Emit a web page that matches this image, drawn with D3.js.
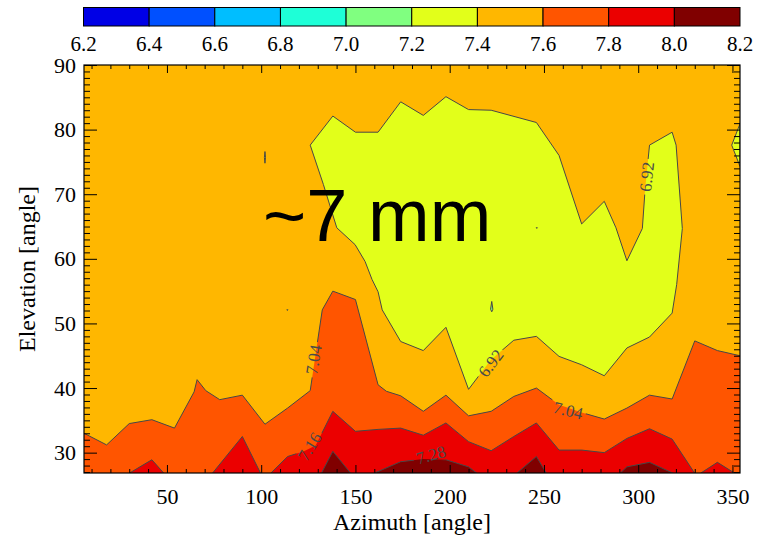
<!DOCTYPE html>
<html>
<head>
<meta charset="utf-8">
<script src="https://cdn.jsdelivr.net/npm/d3@7"></script>
<style>
  body { margin: 0; background: #fff; }
</style>
</head>
<body>
<script>
// colour table shown in the bar on top
const barLevels = [6.2, 6.4, 6.6, 6.8, 7.0, 7.2, 7.4, 7.6, 7.8, 8.0, 8.2];
const barColors = ["#0000e6", "#0050ff", "#00beff", "#1effd7", "#80ff80",
                   "#e2ff1a", "#ffb700", "#ff5500", "#eb0000", "#800000"];

// axis ticks
const azTicks = [50, 100, 150, 200, 250, 300, 350];
const azMinor = d3.range(10, 360, 10).filter(d => d % 50 !== 0);
const elTicks = [30, 40, 50, 60, 70, 80, 90];
const elMinor = d3.range(27, 90, 1).filter(d => d % 10 !== 0);

// contour levels and the colour-table index used for each band (below first level, then above each)
const contourLevels = [6.92, 7.04, 7.16, 7.28];
const bandColorIndex = [5, 6, 7, 8, 9];

// closed regions below 6.92 (azimuth, elevation)
const below692 = [
  [[126,77.6],[138,82.1],[150,79.6],[162,79.6],[174,84.3],[186,82.2],[198,85.1],[210,83.1],[222,83.0],
   [246,81.1],[258,76.0],[270,65.4],[282,68.9],[288.2,64.8],[294,59.7],[302.2,64.7],[303.6,70.5],[306,77.6],
   [318,79.6],[320.1,77.6],[323.4,64.7],[320.4,56.0],[318,51.6],[306,47.9],[294,46.2],[282,41.9],[270,43.6],
   [258,44.9],[246,48.0],[234,47.4],[222,44.4],[210,39.8],[198,49.4],[186,45.8],[174,47.2],[164.2,52.1],
   [162,54.9],[158.8,56.8],[155.1,59.6],[149.8,62.2],[140.1,64.8],[133,71.5]],
  [[354,80.9],[349.6,77.6],[354,74.3]],
  [[102,76.6],[102.3,75.7],[102,74.8],[101.7,75.7]],
  [[113.9,52.2],[114.2,52.1],[113.9,52.0],[113.6,52.1]],
  [[246.2,64.9],[246.5,64.8],[246.2,64.7],[245.9,64.8]]
];
// small pocket one level lower
const below680 = [
  [[222.3,53.4],[222.9,52.2],[222.3,51.8],[221.7,52.2]]
];

// upper edges of the bands rising from the bottom of the plot
const above704 = [
  [[6,33.0],[18,31.2],[30,34.5],[42,35.1],[54,33.8],[64.4,39.4],[66,41.3],[70.6,39.6],[78,38.2],[90,38.9],
   [102,34.4],[114,36.9],[126,39.6],[132.4,52.1],[138,55.0],[150,53.7],[162,40.5],[166.4,39.5],[174,38.8],
   [186,36.4],[198,38.9],[210,35.7],[222,36.4],[234,38.7],[246,40.0],[258,37.4],[270,36.2],[282,35.2],
   [294,36.9],[306,38.9],[318,38.3],[330,47.3],[342,45.8],[354,45.0]]
];
const above716 = [
  [[29.9,26.8],[42,28.9],[48.4,26.8]],
  [[74.1,26.8],[90,32.5],[99.7,26.8]],
  [[105,26.8],[114,29.4],[122.7,30.2],[128.9,31.1],[138,36.4],[150,33.3],[162,33.6],[174,33.8],[186,32.7],
   [198,34.6],[210,31.7],[222,30.3],[234,32.5],[246,34.6],[258,30.4],[270,30.4],[282,30.0],[294,32.2],
   [306,33.7],[318,32.1],[330,26.8]],
  [[333,26.8],[342,28.5],[351.3,26.8]]
];
const above728 = [
  [[131.9,26.8],[138,30.2],[147.5,26.8]],
  [[159.8,26.8],[174,28.6],[186,29.0],[198,28.9],[210,27.8],[214.5,26.8]],
  [[235.5,26.8],[246,29.4],[251.3,26.8]],
  [[290.3,26.8],[294,27.8],[306,28.5],[318.6,26.8]]
];

// level labels written on the lines
const lineLabels = [
  { level: 6.92, az: 304.7, el: 72.7, angle: -84 },
  { level: 6.92, az: 221.9, el: 43.8, angle: -52 },
  { level: 7.04, az: 128.0, el: 44.4, angle: -81 },
  { level: 7.04, az: 262.8, el: 36.5, angle: 14 },
  { level: 7.16, az: 125.9, el: 30.9, angle: -58 },
  { level: 7.28, az: 190.1, el: 29.6, angle: -16 }
];

const note = { text: "~7 mm", az: 101, el: 62.7 };

const width = 766;
const height = 536;
const marginTop = 65, marginRight = 26, marginBottom = 63, marginLeft = 84;

const x = d3.scaleLinear().domain([6, 354]).range([marginLeft, width - marginRight]);
const y = d3.scaleLinear().domain([26.85, 90]).range([height - marginBottom, marginTop]);
const cb = d3.scaleLinear().domain([6.2, 8.2]).range([83.5, 740]);

const serif = "'Liberation Serif', 'Times New Roman', Times, serif";

const svg = d3.select("body").append("svg")
    .attr("width", width)
    .attr("height", height)
    .style("font-family", serif);

const defs = svg.append("defs");
defs.append("clipPath").attr("id", "plot-clip")
  .append("rect")
    .attr("x", x.range()[0]).attr("y", y.range()[1])
    .attr("width", x.range()[1] - x.range()[0])
    .attr("height", y.range()[0] - y.range()[1]);

// colour bar
const bar = svg.append("g");
bar.selectAll("rect").data(barColors).join("rect")
    .attr("x", (d, i) => cb(barLevels[i]))
    .attr("y", 7.5)
    .attr("width", (d, i) => cb(barLevels[i + 1]) - cb(barLevels[i]))
    .attr("height", 18.5)
    .attr("fill", d => d)
    .attr("stroke", "#000")
    .attr("stroke-width", 1);
bar.selectAll("text").data(barLevels).join("text")
    .attr("x", d => cb(d))
    .attr("y", 51)
    .attr("text-anchor", "middle")
    .attr("font-size", 21)
    .text(d => d.toFixed(1));

const area = d3.area()
    .x(d => x(d[0]))
    .y0(y(y.domain()[0]))
    .y1(d => y(d[1]));
const line = d3.line()
    .x(d => x(d[0]))
    .y(d => y(d[1]));
const ring = pts => line(pts) + "Z";

// filled bands
const plot = svg.append("g").attr("clip-path", "url(#plot-clip)");
plot.append("rect")
    .attr("x", x.range()[0]).attr("y", y.range()[1])
    .attr("width", x.range()[1] - x.range()[0])
    .attr("height", y.range()[0] - y.range()[1])
    .attr("fill", barColors[bandColorIndex[1]]);

plot.selectAll(".low").data(below692).join("path")
    .attr("d", ring)
    .attr("fill", barColors[bandColorIndex[0]]);
plot.selectAll(".lower").data(below680).join("path")
    .attr("d", ring)
    .attr("fill", barColors[4]);

[above704, above716, above728].forEach((pieces, i) => {
  plot.append("g").selectAll("path").data(pieces).join("path")
      .attr("d", area)
      .attr("fill", barColors[bandColorIndex[i + 2]]);
});

// contour lines, with gaps where the labels sit
const mask = defs.append("mask").attr("id", "label-gaps")
    .attr("maskUnits", "userSpaceOnUse")
    .attr("x", 0).attr("y", 0).attr("width", width).attr("height", height);
mask.append("rect").attr("width", width).attr("height", height).attr("fill", "#fff");

const lines = svg.append("g")
    .attr("clip-path", "url(#plot-clip)")
  .append("g")
    .attr("mask", "url(#label-gaps)")
    .attr("fill", "none")
    .attr("stroke", "#474747")
    .attr("stroke-width", 1);

below692.concat(below680).forEach(pts => lines.append("path").attr("d", ring(pts)));
[above704, above716, above728].forEach(pieces =>
  pieces.forEach(pts => lines.append("path").attr("d", line(pts))));

const labels = svg.append("g")
    .attr("font-size", 17)
    .attr("fill", "#4a4a4a");
lineLabels.forEach(d => {
  const t = labels.append("text")
      .attr("transform", `translate(${x(d.az)},${y(d.el)}) rotate(${d.angle})`)
      .attr("text-anchor", "middle")
      .attr("dominant-baseline", "central")
      .text(d.level.toFixed(2));
  const w = t.node().getComputedTextLength() + 6;
  mask.append("rect")
      .attr("transform", `translate(${x(d.az)},${y(d.el)}) rotate(${d.angle})`)
      .attr("x", -w / 2).attr("y", -8)
      .attr("width", w).attr("height", 16)
      .attr("fill", "#000");
});

// annotation
svg.append("text")
    .attr("x", x(note.az))
    .attr("y", y(note.el))
    .attr("font-family", "'Liberation Sans', Arial, Helvetica, sans-serif")
    .attr("font-size", 74)
    .attr("fill", "#000")
    .text(note.text);

// axes, ticks pointing inward on all four sides
function styleAxis(g) {
  g.select(".domain").remove();
  g.selectAll("line").attr("stroke", "#000");
  g.attr("font-family", serif).attr("font-size", 22);
  g.selectAll("text").attr("fill", "#000");
}
const yb = y.range()[0], yt = y.range()[1], xl = x.range()[0], xr = x.range()[1];

svg.append("g").attr("transform", `translate(0,${yb})`)
    .call(d3.axisBottom(x).tickValues(azTicks).tickSize(-8).tickSizeOuter(0).tickPadding(15))
    .call(styleAxis);
svg.append("g").attr("transform", `translate(0,${yb})`)
    .call(d3.axisBottom(x).tickValues(azMinor).tickSize(-4).tickFormat(""))
    .call(styleAxis);
svg.append("g").attr("transform", `translate(0,${yt})`)
    .call(d3.axisTop(x).tickValues(azTicks).tickSize(-8).tickFormat(""))
    .call(styleAxis);
svg.append("g").attr("transform", `translate(0,${yt})`)
    .call(d3.axisTop(x).tickValues(azMinor).tickSize(-4).tickFormat(""))
    .call(styleAxis);

svg.append("g").attr("transform", `translate(${xl},0)`)
    .call(d3.axisLeft(y).tickValues(elTicks).tickSize(-13).tickSizeOuter(0).tickPadding(8))
    .call(styleAxis);
svg.append("g").attr("transform", `translate(${xl},0)`)
    .call(d3.axisLeft(y).tickValues(elMinor).tickSize(-6).tickFormat(""))
    .call(styleAxis);
svg.append("g").attr("transform", `translate(${xr},0)`)
    .call(d3.axisRight(y).tickValues(elTicks).tickSize(-13).tickFormat(""))
    .call(styleAxis);
svg.append("g").attr("transform", `translate(${xr},0)`)
    .call(d3.axisRight(y).tickValues(elMinor).tickSize(-6).tickFormat(""))
    .call(styleAxis);

svg.append("rect")
    .attr("x", xl).attr("y", yt)
    .attr("width", xr - xl).attr("height", yb - yt)
    .attr("fill", "none")
    .attr("stroke", "#000")
    .attr("stroke-width", 1.2);

// axis titles
svg.append("text")
    .attr("x", (xl + xr) / 2)
    .attr("y", 530)
    .attr("text-anchor", "middle")
    .attr("font-size", 24)
    .text("Azimuth [angle]");
svg.append("text")
    .attr("transform", "rotate(-90)")
    .attr("x", -(yb + yt) / 2)
    .attr("y", 35)
    .attr("text-anchor", "middle")
    .attr("font-size", 24)
    .text("Elevation [angle]");
</script>
</body>
</html>
